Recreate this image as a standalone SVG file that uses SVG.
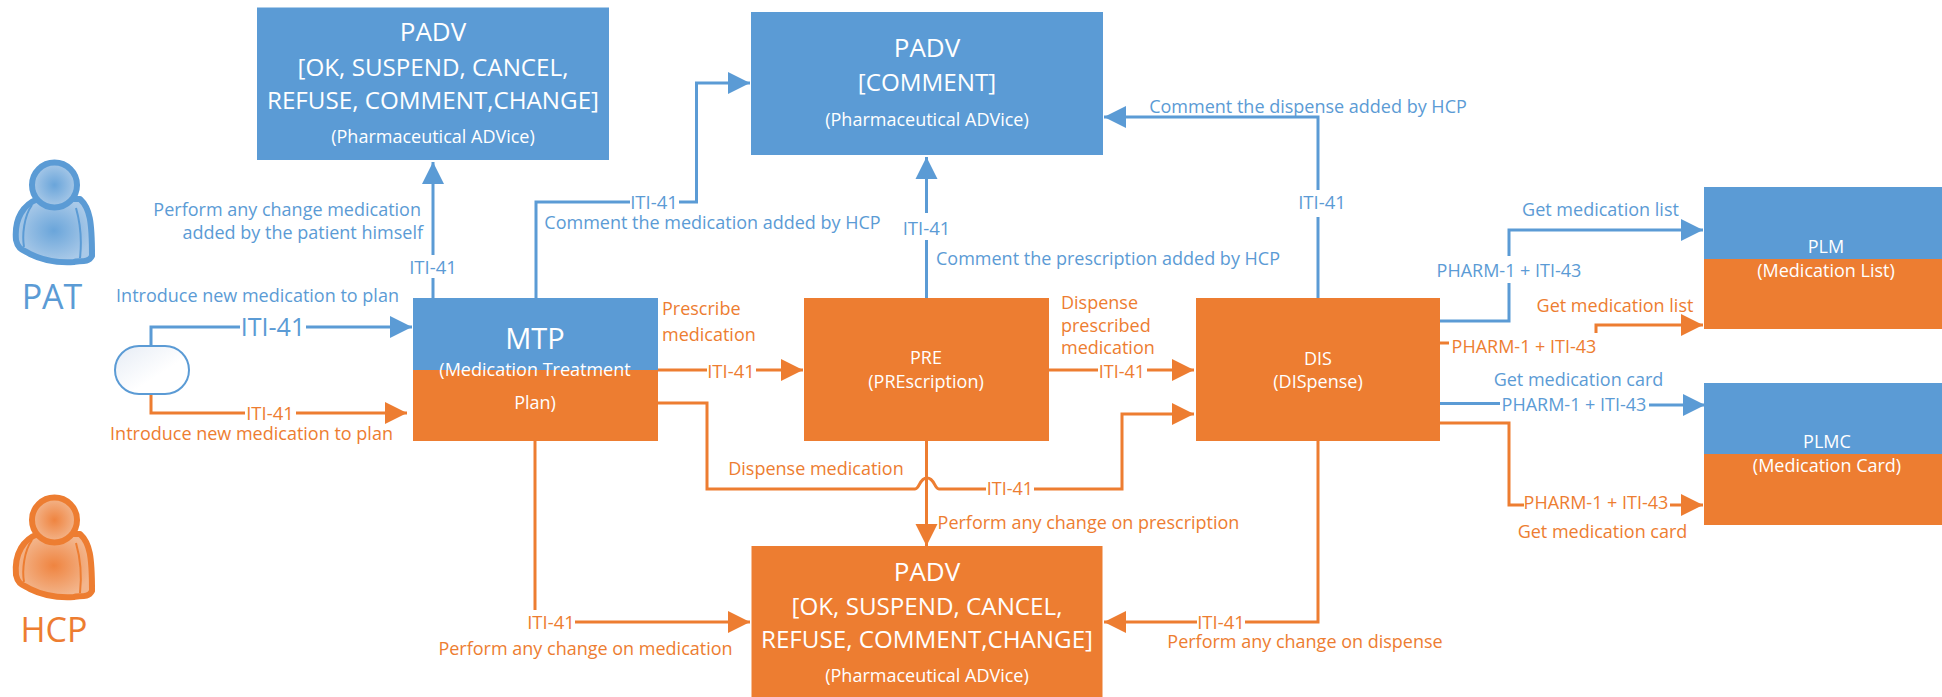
<svg xmlns="http://www.w3.org/2000/svg" width="1942" height="697" viewBox="0 0 1942 697">
<style>
text{font-family:"Open Sans","Noto Sans","Liberation Sans",sans-serif;text-anchor:middle;dominant-baseline:central}
.b{fill:#5b9bd5}.o{fill:#ed7d31}.w{fill:#fff}
.f15{font-size:18px}.i{font-size:18.500px}
.h{font-size:24.200px}.t{font-size:26px}.s{font-size:18px}
.l{fill:none;stroke-width:3;stroke-linejoin:miter}
.lb{stroke:#5b9bd5}.lo{stroke:#ed7d31}
.e{text-anchor:end}.st{text-anchor:start}
</style>
<defs>
<marker id="mb" markerUnits="userSpaceOnUse" markerWidth="24" markerHeight="24" refX="23" refY="12" orient="auto"><path d="M1 1L23 12L1 23Z" fill="#5b9bd5"/></marker>
<marker id="mo" markerUnits="userSpaceOnUse" markerWidth="24" markerHeight="24" refX="23" refY="12" orient="auto"><path d="M1 1L23 12L1 23Z" fill="#ed7d31"/></marker>
<radialGradient id="gb"><stop offset="0" stop-color="#6aa5da"/><stop offset="1" stop-color="#a9c9e8"/></radialGradient>
<radialGradient id="go"><stop offset="0" stop-color="#ef8440"/><stop offset="1" stop-color="#f3b68d"/></radialGradient>
<linearGradient id="gs" x1="0" y1="0" x2="1" y2="1"><stop offset="0" stop-color="#e6ecf5"/><stop offset="0.6" stop-color="#fff"/></linearGradient>
</defs>
<rect width="1942" height="697" fill="#fff"/>

<g id="connectors" class="l">
<path class="l lb" d="M151 346V327H240"/><path class="l lb" d="M306 327H412" marker-end="url(#mb)"/>
<path class="l lo" d="M151 394V413H245"/><path class="l lo" d="M296 413H407" marker-end="url(#mo)"/>
<path class="l lb" d="M433 298V278"/><path class="l lb" d="M433 255V162" marker-end="url(#mb)"/>
<path class="l lb" d="M536 298V202H630"/><path class="l lb" d="M679 202H696.500V83H750" marker-end="url(#mb)"/>
<path class="l lb" d="M926.500 298V240"/><path class="l lb" d="M926.500 213V157" marker-end="url(#mb)"/>
<path class="l lb" d="M1318 298V217"/><path class="l lb" d="M1318 190V117H1104" marker-end="url(#mb)"/>
<path class="l lo" d="M658 370H707"/><path class="l lo" d="M756 370H803" marker-end="url(#mo)"/>
<path class="l lo" d="M658 403H707V489H915C920 489 919 478 927 478C935 478 934 489 939 489H986"/><path class="l lo" d="M1034 489H1122V414H1194" marker-end="url(#mo)"/>
<path class="l lo" d="M1049 370H1098"/><path class="l lo" d="M1147 370H1194" marker-end="url(#mo)"/>
<path class="l lo" d="M926.500 441V546" marker-end="url(#mo)"/>
<path class="l lo" d="M535 441V610"/><path class="l lo" d="M575 622H750" marker-end="url(#mo)"/>
<path class="l lo" d="M1318 441V622H1245"/><path class="l lo" d="M1197 622H1104" marker-end="url(#mo)"/>
<path class="l lb" d="M1440 321H1509V283"/><path class="l lb" d="M1509 256V230H1703" marker-end="url(#mb)"/>
<path class="l lo" d="M1440 343H1449"/><path class="l lo" d="M1596 333V325H1703" marker-end="url(#mo)"/>
<path class="l lb" d="M1440 403.500H1500"/><path class="l lb" d="M1649 405H1705" marker-end="url(#mb)"/>
<path class="l lo" d="M1440 423H1509V505H1524"/><path class="l lo" d="M1670 505H1703" marker-end="url(#mo)"/>
</g>

<g id="pat">
<path d="M16 240C14 218 24 204 38 199L80 199C90 208 92 222 92 256C88 264 78 260 74 262C58 263 42 260 30 254C24 250 18 250 16 240Z" fill="url(#gb)" stroke="#5b9bd5" stroke-width="6" stroke-linejoin="round"/>
<path d="M32 205C24 216 22 235 24 247M76 208C80 222 82 240 80 258" fill="none" stroke="#5b9bd5" stroke-width="2"/>
<circle cx="54.500" cy="185" r="22.500" fill="url(#gb)" stroke="#5b9bd5" stroke-width="6"/>
<text class="b" x="52" y="296" font-size="34">PAT</text>
</g>
<g id="hcp">
<path d="M16 575C14 553 24 539 38 534L80 534C90 543 92 557 92 591C88 599 78 595 74 597C58 598 42 595 30 589C24 585 18 585 16 575Z" fill="url(#go)" stroke="#ed7d31" stroke-width="6" stroke-linejoin="round"/>
<path d="M32 540C24 551 22 570 24 582M76 543C80 557 82 575 80 593" fill="none" stroke="#ed7d31" stroke-width="2"/>
<circle cx="54.500" cy="520" r="22.500" fill="url(#go)" stroke="#ed7d31" stroke-width="6"/>
<text class="o" x="54" y="629" font-size="34">HCP</text>
</g>
<g id="start">
<rect x="115" y="346" width="74" height="48" rx="24" ry="24" fill="url(#gs)" stroke="#5b9bd5" stroke-width="2"/>
</g>

<g id="padv1"><rect class="b" x="257" y="7.500" width="352" height="152.500"/>
<text class="w t" x="433" y="31">PADV</text><text class="w h" x="433" y="66">[OK, SUSPEND, CANCEL,</text><text class="w h" x="433" y="99">REFUSE, COMMENT,CHANGE]</text><text class="w s" x="433" y="136">(Pharmaceutical ADVice)</text></g>
<g id="padv2"><rect class="b" x="751" y="12" width="352" height="143"/>
<text class="w t" x="927" y="47">PADV</text><text class="w h" x="927" y="81">[COMMENT]</text><text class="w s" x="927" y="119">(Pharmaceutical ADVice)</text></g>
<g id="padv3"><rect class="o" x="751.500" y="546" width="351" height="151"/>
<text class="w t" x="927" y="571">PADV</text><text class="w h" x="927" y="605">[OK, SUSPEND, CANCEL,</text><text class="w h" x="927" y="638">REFUSE, COMMENT,CHANGE]</text><text class="w s" x="927" y="675">(Pharmaceutical ADVice)</text></g>
<g id="mtp"><rect class="b" x="413" y="298" width="245" height="72"/><rect class="o" x="413" y="370" width="245" height="71"/>
<text class="w" x="535" y="337" font-size="29">MTP</text><text class="w s" x="535" y="369">(Medication Treatment</text><text class="w s" x="535" y="402">Plan)</text></g>
<g id="pre"><rect class="o" x="804" y="298" width="245" height="143"/>
<text class="w s" x="926" y="357">PRE</text><text class="w s" x="926" y="381">(PREscription)</text></g>
<g id="dis"><rect class="o" x="1196" y="298" width="244" height="143"/>
<text class="w s" x="1318" y="358">DIS</text><text class="w s" x="1318" y="381">(DISpense)</text></g>
<g id="plm"><rect class="b" x="1704" y="187" width="238" height="72"/><rect class="o" x="1704" y="259" width="238" height="70"/>
<text class="w s" x="1826" y="246">PLM</text><text class="w s" x="1826" y="270">(Medication List)</text></g>
<g id="plmc"><rect class="b" x="1704" y="383" width="238" height="71"/><rect class="o" x="1704" y="454" width="238" height="71"/>
<text class="w s" x="1827" y="441">PLMC</text><text class="w s" x="1827" y="465">(Medication Card)</text></g>

<g id="labels" class="f15">
<text class="b" x="273" y="326" font-size="25">ITI-41</text>
<text class="o i" x="270" y="412">ITI-41</text>
<text class="b i" x="433" y="266">ITI-41</text>
<text class="b i" x="654" y="201">ITI-41</text>
<text class="b i" x="926.500" y="227">ITI-41</text>
<text class="b i" x="1322" y="201">ITI-41</text>
<text class="o i" x="731" y="370">ITI-41</text>
<text class="o f15" x="1122" y="371">ITI-41</text>
<text class="o f15" x="1010" y="488">ITI-41</text>
<text class="o i" x="551" y="621">ITI-41</text>
<text class="o i" x="1221" y="621">ITI-41</text>
<text class="b f15" x="1509" y="270">PHARM-1 + ITI-43</text>
<text class="o f15" x="1524" y="346">PHARM-1 + ITI-43</text>
<text class="b f15" x="1574" y="404">PHARM-1 + ITI-43</text>
<text class="o f15" x="1596" y="502">PHARM-1 + ITI-43</text>
<text class="b f15 e" x="421" y="209">Perform any change medication</text>
<text class="b f15 e" x="423" y="232">added by the patient himself</text>
<text class="b f15" x="257.500" y="295">Introduce new medication to plan</text>
<text class="o f15" x="251.500" y="433">Introduce new medication to plan</text>
<text class="b f15" x="712.500" y="222">Comment the medication added by HCP</text>
<text class="b f15" x="1108" y="258">Comment the prescription added by HCP</text>
<text class="b f15" x="1308" y="106">Comment the dispense added by HCP</text>
<text class="b f15" x="1600.500" y="209">Get medication list</text>
<text class="o f15" x="1615" y="305">Get medication list</text>
<text class="b f15" x="1578.500" y="379">Get medication card</text>
<text class="o f15" x="1602.500" y="531">Get medication card</text>
<text class="o f15 st" x="662" y="308">Prescribe</text>
<text class="o f15 st" x="662" y="334">medication</text>
<text class="o f15 st" x="1061" y="302">Dispense</text>
<text class="o f15 st" x="1061" y="325">prescribed</text>
<text class="o f15 st" x="1061" y="347">medication</text>
<text class="o f15" x="816" y="468">Dispense medication</text>
<text class="o f15" x="1088.500" y="522">Perform any change on prescription</text>
<text class="o f15" x="585.500" y="648">Perform any change on medication</text>
<text class="o f15" x="1305" y="641">Perform any change on dispense</text>
</g>
</svg>
